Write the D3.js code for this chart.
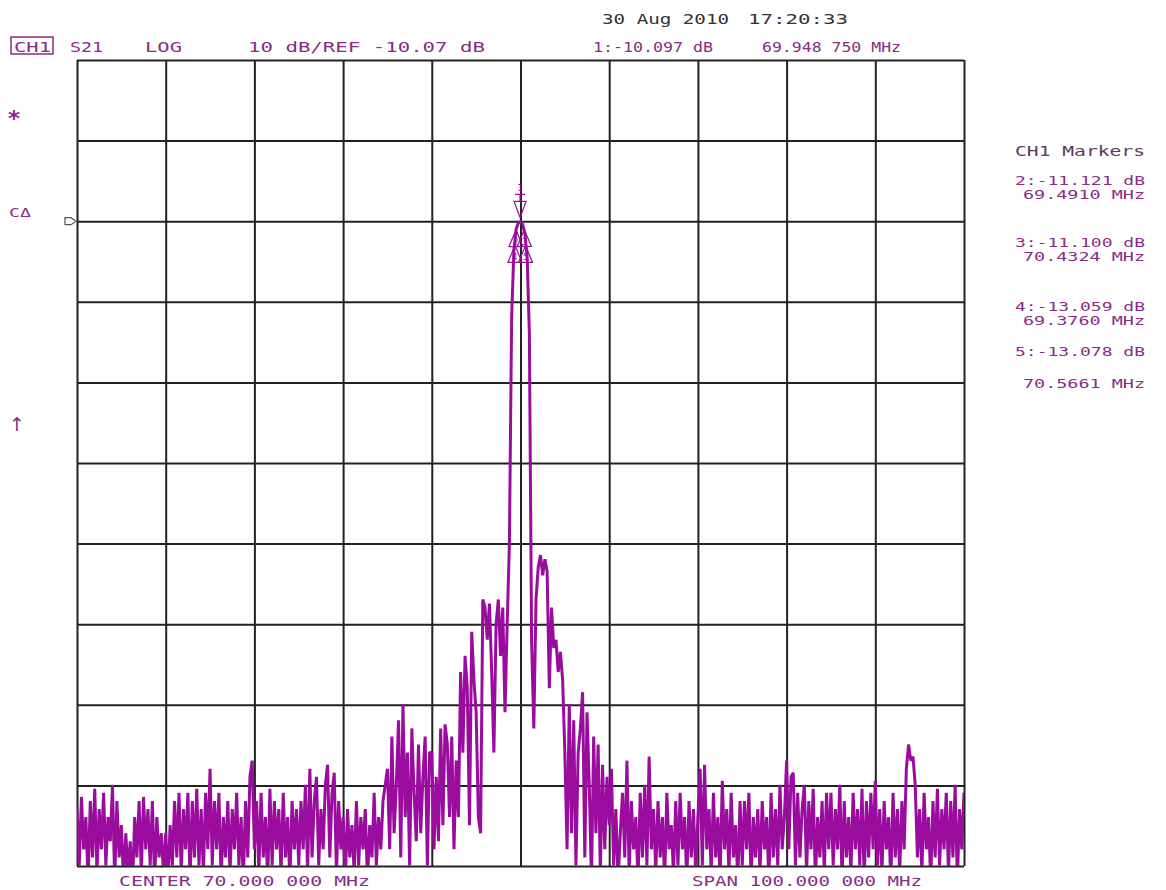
<!DOCTYPE html>
<html>
<head>
<meta charset="utf-8">
<script src="https://cdn.jsdelivr.net/npm/d3@7"></script>
<style>
  body { margin: 0; background: #fff; }
  text { font-family: "DejaVu Sans Mono", "Liberation Mono", monospace; }
</style>
</head>
<body>
<div id="chart"></div>
<script>
// sweep: 401 points, 20 MHz .. 120 MHz (center 70, span 100)
const startMHz = 20;
const stopMHz = 120;

// S21 trace in dB
const traceDb = [
  -83,-90,-81.5,-88,-84,-92,-82,-89,-80.5,-91,-83,-88,-81,-90,-84,-87,-80,-92,-82,-89,
  -85,-92,-86,-91,-87,-93,-84,-89,-82,-91,-81.5,-88,-83,-90,-82,-92,-84,-89,-86,-91,
  -86,-92,-85,-90,-82,-89,-81,-91,-83,-88,-81,-92,-82,-89,-80.5,-90,-83,-91,-81,-88,
  -78,-90,-82,-88,-81,-92,-84,-89,-82,-91,-83,-88,-81,-90,-84,-92,-82,-89,-79,-77,
  -88,-82,-91,-81,-89,-84,-92,-80.5,-90,-82,-88,-83,-91,-81,-89,-84,-92,-82,-88,-83,
  -90,-82,-88,-80,-91,-78,-89,-82,-79,-90,-83,-88,-80,-77.5,-89,-81,-78.5,-91,-82,-88,
  -84,-92,-83,-89,-85,-91,-82,-90,-84,-88,-83,-92,-85,-89,-81,-90,-84,-88,-82,-80,
  -78,-88,-74,-86,-80,-72,-89,-70,-84,-76,-90,-73,-81,-87,-75,-86,-79,-74,-90,-76,
  -76,-88,-79,-87,-73,-85,-72.5,-75,-84,-74,-88,-77,-84,-66,-76,-64,-68,-85,-61,-67,
  -71,-84,-86,-57,-58,-62,-57.5,-66,-76,-60,-57,-64,-58,-71,-60,-50,-22,-13.8,-11.1,-10.3,
  -10.1,-10.5,-11.6,-14.5,-24,-62,-73,-57,-53,-51.5,-54,-52,-53.5,-68,-58,-63,-62,-66,-63.5,-67,
  -76,-88,-70,-86,-72,-90,-76,-73,-68.5,-89,-71,-80,-92,-74,-86,-75,-91,-77.5,-88,-79,
  -85,-78,-90,-83,-92,-86,-81,-89,-77,-91,-82,-88,-84,-92,-81,-89,-80,-90,-76.5,-88,
  -83,-91,-82,-89,-84,-92,-81,-88,-85,-91,-82,-90,-81,-88,-84,-92,-82,-89,-83,-91,
  -84,-78,-90,-77.5,-88,-83,-91,-81,-89,-84,-92,-79.5,-88,-83,-91,-81,-89,-85,-92,-82,
  -90,-82,-88,-81,-92,-84,-89,-83,-91,-82,-88,-84,-92,-81,-89,-83,-90,-80,-88,-84,
  -77,-88,-79,-78.5,-90,-81,-89,-83,-80,-91,-82,-88,-80.5,-92,-84,-89,-82,-91,-81,-88,
  -81,-90,-83,-88,-80,-92,-82,-89,-84,-91,-81,-88,-83,-90,-80.5,-92,-82,-89,-81,-88,
  -79.5,-90,-83,-91,-82,-88,-84,-92,-81,-89,-83,-91,-82,-88,-78,-75,-77,-76.5,-80,-89,
  -83,-91,-81,-88,-84,-92,-82,-89,-80.5,-90,-83,-88,-81,-91,-82,-89,-80,-92,-83,-88,-81
];

// markers
const markerIds = [1, 2, 3, 4, 5];
const markerMHz = [69.94875, 69.4910, 70.4324, 69.3760, 70.5661];
const markerDb = [-10.097, -11.121, -11.100, -13.059, -13.078];

// scale setup: 10 dB/div, ref -10.07 dB sits two divisions below top
const refDb = -10.07;
const dbPerDiv = 10;
const refDiv = 2;       // divisions from top
const divs = 10;

const headerLabels = ["CH1", "S21", "LOG", "10 dB/REF -10.07 dB", "1:-10.097 dB", "69.948 750 MHz"];
const dateLabels = ["30 Aug 2010", "17:20:33"];
const markerTable = ["2:-11.121 dB", "69.4910 MHz", "3:-11.100 dB", "70.4324 MHz",
                     "4:-13.059 dB", "69.3760 MHz", "5:-13.078 dB", "70.5661 MHz"];
const footerLabels = ["CENTER  70.000 000 MHz", "SPAN  100.000 000 MHz"];

const width = 1166, height = 890;
const plot = {left: 77, right: 964, top: 60, bottom: 866};

const svg = d3.select("#chart").append("svg")
    .attr("width", width)
    .attr("height", height);

const topDb = refDb + refDiv * dbPerDiv;
const x = d3.scaleLinear().domain([startMHz, stopMHz]).range([plot.left, plot.right]);
const y = d3.scaleLinear().domain([topDb - divs * dbPerDiv, topDb]).range([plot.bottom, plot.top]);

const xGrid = d3.range(divs + 1).map(i => startMHz + i * (stopMHz - startMHz) / divs);
const yGrid = d3.range(divs + 1).map(i => topDb - i * dbPerDiv);

const purple = "#8a2c84";
const trace = "#9a0c9e";

// grid drawn with axes, no labels
svg.append("g")
    .attr("transform", "translate(0," + plot.bottom + ")")
    .call(d3.axisBottom(x).tickValues(xGrid).tickSize(-(plot.bottom - plot.top)).tickFormat(""))
    .call(g => g.select(".domain").remove())
    .selectAll("line").attr("stroke", "#222").attr("stroke-width", 2);

svg.append("g")
    .attr("transform", "translate(" + plot.left + ",0)")
    .call(d3.axisLeft(y).tickValues(yGrid).tickSize(-(plot.right - plot.left)).tickFormat(""))
    .call(g => g.select(".domain").remove())
    .selectAll("line").attr("stroke", "#222").attr("stroke-width", 2);

svg.append("clipPath").attr("id", "clip")
    .append("rect")
    .attr("x", plot.left).attr("y", plot.top)
    .attr("width", plot.right - plot.left).attr("height", plot.bottom - plot.top);

const step = (stopMHz - startMHz) / (traceDb.length - 1);
const line = d3.line()
    .x((d, i) => x(startMHz + i * step))
    .y(d => y(d));

svg.append("path")
    .datum(traceDb)
    .attr("clip-path", "url(#clip)")
    .attr("fill", "none")
    .attr("stroke", trace)
    .attr("stroke-width", 3)
    .attr("stroke-linejoin", "bevel")
    .attr("d", line);

// markers
const mk = svg.append("g").attr("fill", "none").attr("stroke", trace).attr("stroke-width", 1.2);
markerIds.forEach((id, i) => {
    const mx = x(markerMHz[i]), my = y(markerDb[i]);
    if (id === 1) {
        mk.append("path").attr("d", `M${mx - 6},${my - 20}L${mx + 6},${my - 20}L${mx},${my - 4}Z`);
        mk.append("path").attr("d", `M${mx - 5},${my - 27}L${mx + 5},${my - 27}M${mx},${my - 27}L${mx},${my - 20}`);
        svg.append("text").attr("x", mx).attr("y", my - 30).attr("text-anchor", "middle")
            .attr("font-size", 9).attr("fill", trace).text(id);
    } else {
        mk.append("path").attr("d", `M${mx},${my}L${mx - 7},${my + 17}L${mx + 7},${my + 17}Z`);
        svg.append("text").attr("x", mx).attr("y", my + 15).attr("text-anchor", "middle")
            .attr("font-size", 8).attr("fill", trace).text(id);
    }
});

// reference position pointer on the left
const ry = y(refDb);
svg.append("path")
    .attr("d", `M65,${ry - 3.5}L71,${ry - 3.5}L76,${ry}L71,${ry + 3.5}L65,${ry + 3.5}Z`)
    .attr("fill", "none").attr("stroke", "#555").attr("stroke-width", 1.2);

function label(t, x0, yb, w, color, size) {
    return svg.append("text")
        .attr("x", x0).attr("y", yb)
        .attr("font-size", size || 14)
        .attr("fill", color)
        .attr("textLength", w)
        .attr("lengthAdjust", "spacingAndGlyphs")
        .text(t);
}

// header
svg.append("rect").attr("x", 11).attr("y", 37).attr("width", 42).attr("height", 17)
    .attr("fill", "none").attr("stroke", purple).attr("stroke-width", 1.5);
label(headerLabels[0], 14, 52, 37, purple);
label(headerLabels[1], 70, 52, 33, purple);
label(headerLabels[2], 145, 52, 37, purple);
label(headerLabels[3], 248, 52, 237, purple);
label(headerLabels[4], 593, 52, 120, purple);
label(headerLabels[5], 762, 52, 139, purple);

label(dateLabels[0], 602, 24, 127, "#333");
label(dateLabels[1], 748, 24, 100, "#333");

// marker table on the right
label("CH1 Markers", 1015, 156, 130, "#5c3a5c");
const rowY = [185, 199, 247, 261, 311, 325, 356, 388];
markerTable.forEach((t, i) => {
    const odd = i % 2 === 1;
    label(t, odd ? 1023 : 1015, rowY[i], odd ? 122 : 130, purple, 12);
});

// left annotations
label("*", 7, 126, 14, "#a01aa0", 22).attr("font-weight", "bold");
label("CΔ", 9, 217, 22, purple, 13);
svg.append("text").attr("x", 9).attr("y", 431).attr("font-size", 19)
    .style("font-family", "'DejaVu Sans', sans-serif")
    .attr("fill", purple).text("↑");

// footer
label(footerLabels[0], 119, 886, 251, purple);
label(footerLabels[1], 692, 886, 230, purple);
</script>
</body>
</html>
